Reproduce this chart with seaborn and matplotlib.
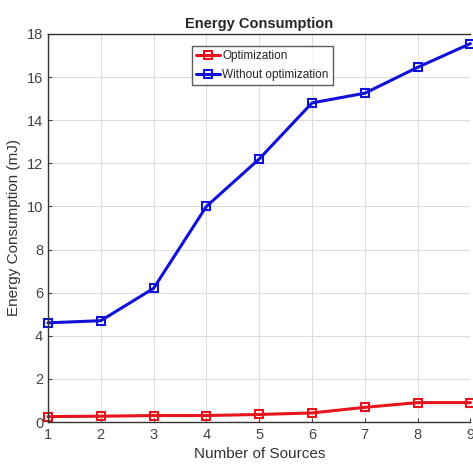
import pandas as pd
import seaborn as sns
import matplotlib.pyplot as plt

sources = [1, 2, 3, 4, 5, 6, 7, 8, 9]
optimization = [0.25, 0.27, 0.30, 0.30, 0.35, 0.42, 0.68, 0.90, 0.90]
without_opt = [4.6, 4.7, 6.2, 10.0, 12.2, 14.8, 15.25, 16.45, 17.55]

df = pd.DataFrame({
    "sources": sources * 2,
    "energy": optimization + without_opt,
    "method": ["Optimization"] * 9 + ["Without optimization"] * 9,
})

sns.set_style("whitegrid")
plt.rcParams['font.family'] = ['Liberation Sans', 'DejaVu Sans']

fig = plt.figure(figsize=(4.73, 4.71), dpi=100)
ax = fig.add_axes([0.1015, 0.104, 0.893, 0.824])

sns.lineplot(data=df, x="sources", y="energy", hue="method",
             palette={"Optimization": "#e8141b", "Without optimization": "#1010d8"},
             marker="s", markersize=6, markerfacecolor="none", markeredgewidth=1.5,
             linewidth=2.2, ax=ax)
for line in ax.lines:
    line.set_markeredgecolor(line.get_color())
    line.set_markerfacecolor("none")
    line.set_clip_on(False)

ax.set_xlim(1, 9)
ax.set_ylim(0, 18)
ax.set_xticks(range(1, 10))
ax.set_yticks(range(0, 19, 2))
ax.grid(True, color="#dddddd", linewidth=0.8)
for side in ["left", "bottom", "top"]:
    ax.spines[side].set_color("#333333")
    ax.spines[side].set_linewidth(1.0)
ax.spines["right"].set_visible(False)
ax.tick_params(axis="both", colors="#444444", labelsize=10.5, length=3, direction="in",
               left=True, bottom=True)
ax.tick_params(axis="x", pad=4)

ax.set_xlabel("Number of Sources", fontsize=11, color="#333333")
ax.set_ylabel("Energy Consumption (mJ)", fontsize=11, color="#333333")
ax.set_title("Energy Consumption", fontsize=10.5, fontweight="bold", pad=4)

leg = ax.legend(loc="upper left", bbox_to_anchor=(0.34, 0.97), fontsize=8.5,
                frameon=True, fancybox=False, edgecolor="#333333", borderaxespad=0,
                handlelength=2.0, handletextpad=0.2, borderpad=0.4, labelspacing=0.55)
leg.get_frame().set_linewidth(1.0)
for h in leg.legend_handles:
    h.set_markeredgecolor(h.get_color())
    h.set_markerfacecolor("none")

fig.savefig("out.png", dpi=100)
